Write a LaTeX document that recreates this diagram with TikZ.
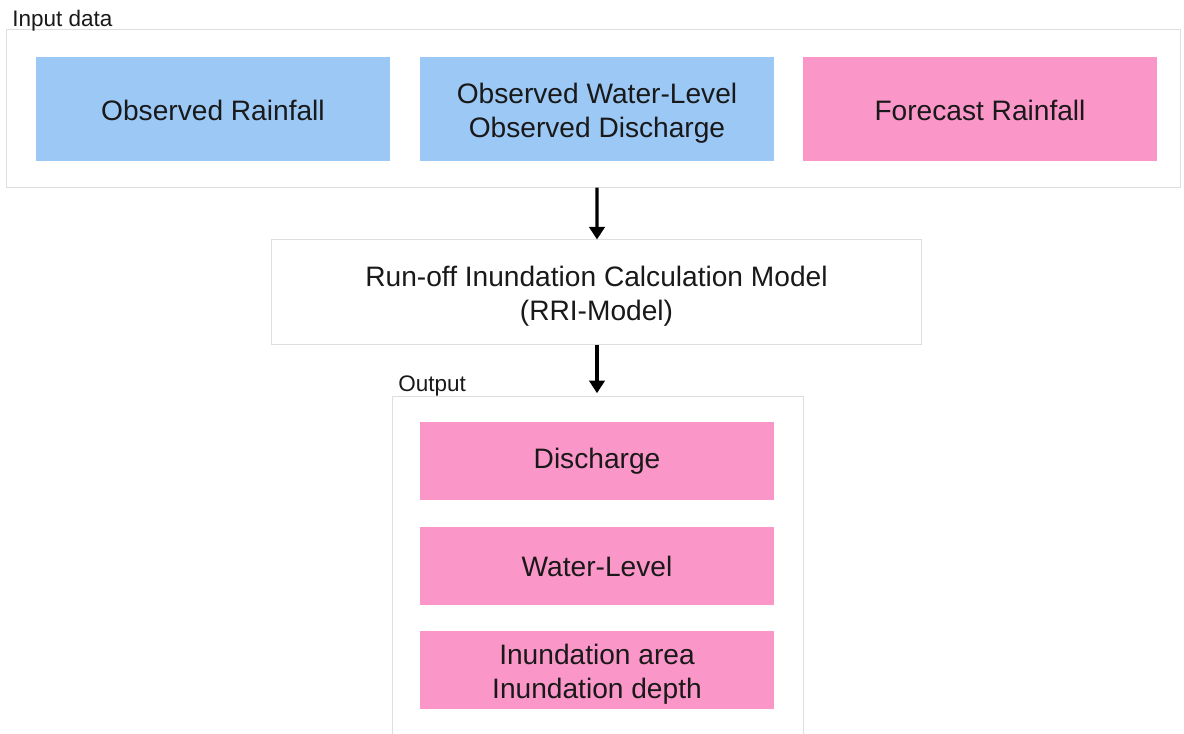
\documentclass[tikz,border=0pt]{standalone}
\usepackage{fontspec}
\setmainfont{Liberation Sans}
\usetikzlibrary{arrows.meta}
\definecolor{obsblue}{RGB}{155,200,245}
\definecolor{fcpink}{RGB}{250,150,200}
\definecolor{framegray}{RGB}{222,222,222}
\definecolor{txt}{RGB}{25,25,25}
\newcommand{\firststrut}{\rule{0pt}{20.5pt}}
\tikzset{
  px/.style={x=0.025cm,y=-0.025cm},
  bigbox/.style={minimum width=8.85cm,minimum height=2.6cm,inner sep=0pt,align=center,
    font=\fontsize{20}{24}\selectfont,text=txt},
  bluebox/.style={bigbox,fill=obsblue},
  pinkbox/.style={bigbox,fill=fcpink},
  outbox/.style={pinkbox,minimum height=1.95cm},
  modelbox/.style={draw=framegray,line width=0.7pt,minimum width=16.225cm,minimum height=2.6cm,
    inner sep=0pt,align=center,font=\fontsize{20}{24}\selectfont,text=txt},
  framebox/.style={draw=framegray,line width=0.7pt,inner sep=0pt},
  grouplabel/.style={font=\fontsize{16}{19}\selectfont,text=txt,inner sep=0pt,anchor=base west},
  flow/.style={-{Triangle[length=9pt,width=11pt]},line width=2.2pt,black}
}
\begin{document}
\begin{tikzpicture}[px]
\useasboundingbox[fill=white] (0,0) rectangle (1184,734);
% input frame
\node[framebox,minimum width=29.325cm,minimum height=3.925cm] (inframe) at (593.5,108.5) {};
\node[grouplabel] (inlabel) at (12,27) {Input data};
\node[bluebox] (obsrain) at (213,109) {\rule{0pt}{16pt}Observed Rainfall};
\node[bluebox] (obswater) at (597,109) {\firststrut Observed Water-Level\\Observed Discharge};
\node[pinkbox] (fcrain) at (980,109) {\rule{0pt}{16pt}Forecast Rainfall};
% model
\node[modelbox] (model) at (596.5,292) {\firststrut Run-off Inundation Calculation Model\\(RRI-Model)};
% output frame
\coordinate (outtop) at (597,396);
\draw[framegray,line width=0.7pt] (392,740) -- (392,396) -- (803,396) -- (803,740);
\node[grouplabel] (outlabel) at (398,392) {Output};
\node[outbox] (discharge) at (597,461) {Discharge};
\node[outbox] (waterlevel) at (597,566) {Water-Level};
\node[outbox] (inund) at (597,670) {\firststrut Inundation area\\Inundation depth};
% arrows
\draw[flow] (inframe.south -| model.north) ++(0.5,0) -- (model.north -| 597,0);
\draw[flow] (model.south -| 597,0) -- ([yshift=2pt]outtop);
\end{tikzpicture}
\end{document}
